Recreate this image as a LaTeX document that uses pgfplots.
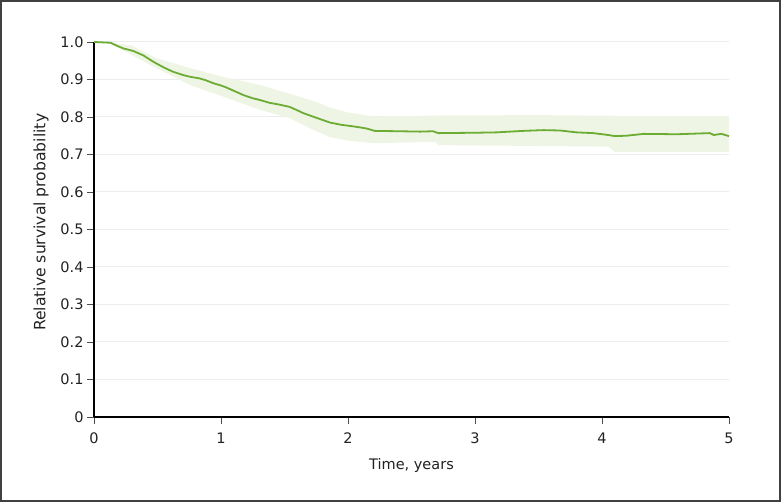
\documentclass[border=0pt]{standalone}
\usepackage{pgfplots}
\pgfplotsset{compat=1.18}
\usepgfplotslibrary{fillbetween}
\usepackage{fontspec}
\setmainfont{DejaVu Sans}
\definecolor{kmgreen}{RGB}{108,172,50}
\definecolor{kmband}{RGB}{238,245,229}
\definecolor{gridgray}{RGB}{236,236,236}
\definecolor{txt}{RGB}{34,34,34}

\begin{document}
\begin{tikzpicture}
\begin{axis}[
    at={(94bp,85bp)}, anchor=south west,
    scale only axis, width=635bp, height=375bp,
    xmin=0, xmax=5, ymin=0, ymax=1,
    axis lines=left,
    axis line style={-, black, line width=1.1bp},
    xtick={0,1,2,3,4,5},
    ytick={0,0.1,0.2,0.3,0.4,0.5,0.6,0.7,0.8,0.9,1.0},
    yticklabels={0,0.1,0.2,0.3,0.4,0.5,0.6,0.7,0.8,0.9,1.0},
    tick align=outside,
    major tick length=7bp,
    tick style={black!70, line width=0.9bp},
    ymajorgrids,
    grid style={gridgray, line width=1bp},
    /pgf/number format/assume math mode=true,
    tick label style={font=\fontsize{14.5bp}{17bp}\selectfont, text=txt},
    xticklabel style={yshift=-5.5bp},
    xlabel={Time, years},
    ylabel={Relative survival probability},
    xlabel style={at={(axis description cs:0.5,-0.1413)}, anchor=base,
        font=\fontsize{14.5bp}{17bp}\selectfont, text=txt},
    ylabel style={at={(axis description cs:-0.0767,0.519)}, anchor=base,
        font=\fontsize{15.6bp}{18bp}\selectfont, text=txt},
]
\addplot[name path=up, draw=none, forget plot] table {
x y
0 1.0
0.13 1.0
0.30 0.99
0.49 0.957
0.76 0.930
1.02 0.907
1.31 0.885
1.54 0.862
1.75 0.840
1.86 0.825
2.00 0.812
2.21 0.801
2.70 0.804
3.50 0.805
4.20 0.803
5.00 0.803
};
\addplot[name path=lo, draw=none, forget plot] table {
x y
0 1.0
0.13 0.995
0.30 0.965
0.49 0.930
0.76 0.885
1.02 0.854
1.31 0.819
1.54 0.797
1.75 0.762
1.86 0.746
2.00 0.737
2.21 0.730
2.69 0.734
2.71 0.725
4.05 0.721
4.10 0.707
5.00 0.707
};
\addplot[kmband, forget plot] fill between[of=up and lo];
\addplot[kmgreen, line width=1.8bp] table {
x y
0 1.0
0.13 0.998
0.18 0.990
0.23 0.983
0.31 0.976
0.39 0.964
0.44 0.953
0.49 0.943
0.55 0.932
0.62 0.921
0.70 0.912
0.76 0.907
0.83 0.903
0.88 0.898
0.94 0.890
1.00 0.884
1.04 0.879
1.10 0.870
1.18 0.858
1.25 0.850
1.31 0.845
1.38 0.838
1.46 0.833
1.54 0.827
1.60 0.818
1.65 0.810
1.75 0.798
1.86 0.785
1.95 0.779
2.02 0.776
2.10 0.772
2.15 0.769
2.21 0.763
2.40 0.762
2.57 0.761
2.67 0.762
2.71 0.757
3.00 0.758
3.17 0.759
3.38 0.763
3.54 0.765
3.67 0.764
3.80 0.759
3.93 0.757
4.05 0.752
4.10 0.749
4.19 0.750
4.33 0.755
4.59 0.754
4.85 0.757
4.88 0.752
4.94 0.755
5.00 0.749
};
\end{axis}
\draw[line width=1.6bp, color=black!75] (0.8bp,0.8bp) rectangle (780.2bp,501.2bp);
\pgfresetboundingbox
\useasboundingbox (0bp,0bp) rectangle (781bp,502bp);
\end{tikzpicture}
\end{document}
